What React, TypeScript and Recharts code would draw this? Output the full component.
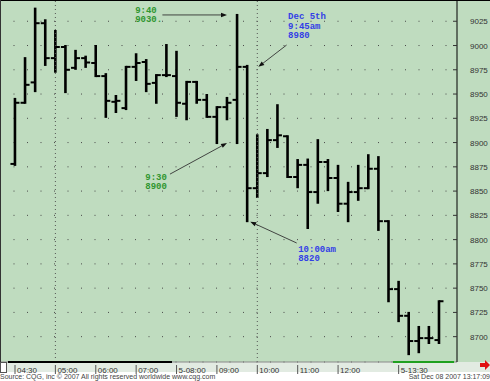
import React from "react";
import {
  ComposedChart,
  Bar,
  XAxis,
  YAxis,
  CartesianGrid,
  ReferenceLine,
  ReferenceDot,
} from "recharts";

// bar-by-bar OHLC (one bar per slot)
const OPEN = [
  8878, 8941, 8962, 9023, 8987, 8998.5, 8977, 8987, 8982, 8968.5, 8942, 8935.5, 8978, 8983, 8961.5,
  8969.5, 8968.5, 8940, 8962.5, 8944, 8926.5, 8936.5, 8944, 8978, 8853, 8868.5, 8902.5, 8906.5, 8864.5,
  8877, 8849, 8880, 8863.5, 8837, 8849, 8853, 8873, 8819, 8749, 8721.5, 8695.5, 8698.5, 8696.5,
];
const HIGH = [
  8945, 8987, 9038, 9026, 9015, 8999.5, 8994.5, 8988.5, 8999.5, 8970.5, 8948, 8978, 8991, 8985, 8969.5,
  9000.5, 8993.5, 8962.5, 8962.5, 8949, 8936.5, 8946, 9031.5, 8979, 8907.5, 8913, 8938.5, 8906.5, 8882,
  8882.5, 8902.5, 8882, 8876, 8858.5, 8876, 8887, 8885, 8819, 8756.5, 8724.5, 8710, 8710, 8736.5,
];
const LOW = [
  8877, 8941, 8953, 8980, 8973, 8952, 8976, 8978, 8968.5, 8926.5, 8931.5, 8934.5, 8964.5, 8953, 8941,
  8968.5, 8927.5, 8924, 8941, 8926.5, 8899.5, 8924, 8899.5, 8819, 8844, 8865.5, 8895.5, 8864.5, 8854,
  8812, 8838, 8851, 8829.5, 8819, 8841, 8853, 8810, 8736.5, 8716, 8682, 8684, 8693.5, 8693.5,
];
const CLOSE = [
  8941, 8959.5, 9023, 8987, 8998.5, 8975, 8987, 8982.5, 8968.5, 8943, 8943, 8978, 8982, 8960.5, 8969.5,
  8969.5, 8941, 8962.5, 8944, 8926.5, 8936.5, 8941, 8978, 8853, 8868.5, 8902.5, 8907.5, 8864.5, 8877,
  8849, 8880, 8863.5, 8837, 8849, 8853, 8873, 8819, 8749, 8721.5, 8695.5, 8698.5, 8698.5, 8736.5,
];

const TIME_TICKS = [0, 4, 8, 12, 16, 20, 24, 28, 32, 38];
const TIME_LABELS = ["04:30", "05:00", "06:00", "07:00", "5-08:00", "09:00", "10:00", "11:00", "12:00", "5-13:30"];
const PRICE_TICKS = [8700, 8725, 8750, 8775, 8800, 8825, 8850, 8875, 8900, 8925, 8950, 8975, 9000, 9025];
const SESSION_LINES = [4, 24];

// callouts: anchor in bar-index / price units
const NOTES = [
  { x: 11.9, y: 9034, lines: ["9:40", "9030."], color: "#2f962f" },
  { x: 12.9, y: 8861.5, lines: ["9:30", "8900"], color: "#2f962f" },
  { x: 27.05, y: 9027, lines: ["Dec 5th", "9:45am", "8980"], color: "#3340e6" },
  { x: 28.05, y: 8787.5, lines: ["10:00am", "8820"], color: "#3340e6" },
];
const ARROWS = [
  { from: [14.6, 9031.5], to: [21.0, 9031.5] },
  { from: [15.35, 8867.5], to: [21.0, 8899.5] },
  { from: [26.9, 9000.5], to: [24.1, 8978] },
  { from: [27.9, 8796.5], to: [23.3, 8818.5] },
];

const data = OPEN.map((o, i) => ({ i, open: o, high: HIGH[i], low: LOW[i], close: CLOSE[i] }));

const OhlcBar = (props: any) => {
  const { x, y, width, height, payload } = props;
  const top = Math.min(y, y + height);
  const bot = Math.max(y, y + height);
  const span = payload.high - payload.low || 1;
  const k = (bot - top) / span;
  const cx = x + width / 2;
  const yo = top + (payload.high - payload.open) * k;
  const yc = top + (payload.high - payload.close) * k;
  return (
    <g stroke="#000">
      <line x1={cx} x2={cx} y1={top - 1} y2={bot + 1} strokeWidth={2.6} />
      <line x1={cx - 4.5} x2={cx} y1={yo} y2={yo} strokeWidth={2} />
      <line x1={cx} x2={cx + 4.5} y1={yc} y2={yc} strokeWidth={2} />
    </g>
  );
};

const TimeTick = (props: any) => {
  const { x, y, payload } = props;
  const label = TIME_LABELS[TIME_TICKS.indexOf(payload.value)];
  return (
    <g>
      <line x1={x} x2={x} y1={y + 1} y2={y + 10} stroke="#555" strokeWidth={1} />
      <text x={x + 2} y={y + 8.5} fontSize={8} fontFamily="Liberation Sans, Arial" fill="#333">
        {label}
      </text>
    </g>
  );
};

const PriceTick = (props: any) => {
  const { x, y, payload } = props;
  return (
    <g>
      <line x1={x - 17} x2={x - 13} y1={y} y2={y} stroke="#333" strokeWidth={1} />
      <text x={x} y={y} dy={3} fontSize={8} fontFamily="Liberation Sans, Arial" fill="#333">
        {payload.value}
      </text>
    </g>
  );
};

const Arrow = (props: any) => {
  const { x1, y1, x2, y2 } = props;
  const a = Math.atan2(y2 - y1, x2 - x1);
  const L = 6;
  const W = 2.2;
  const bx = x2 - L * Math.cos(a);
  const by = y2 - L * Math.sin(a);
  const px = -Math.sin(a) * W;
  const py = Math.cos(a) * W;
  return (
    <g>
      <line x1={x1} y1={y1} x2={bx} y2={by} stroke="#333" strokeWidth={0.9} />
      <polygon points={`${x2},${y2} ${bx + px},${by + py} ${bx - px},${by - py}`} fill="#111" />
    </g>
  );
};

const noteShape = (note: (typeof NOTES)[number]) => (p: any) => (
  <text
    x={p.cx}
    y={p.cy}
    fontSize={9}
    fontWeight="bold"
    fontFamily="Liberation Mono, DejaVu Sans Mono, monospace"
    fill={note.color}
  >
    {note.lines.map((l, j) => (
      <tspan key={j} x={p.cx} dy={j === 0 ? 0 : 9.5}>
        {l}
      </tspan>
    ))}
  </text>
);

export default function App() {
  return (
    <div style={{ position: "absolute", left: 0, top: 0, width: 490, height: 381, background: "#fff", overflow: "hidden" }}>
      <div style={{ position: "absolute", left: 0, top: 0, width: 490, height: 362, background: "#bfdcbf" }} />
      <div style={{ position: "absolute", left: 0, top: 362, width: 490, height: 10, background: "#e2ebe2" }} />
      <div style={{ position: "absolute", left: 0, top: 0 }}>
        <ComposedChart width={490} height={381} data={data} margin={{ top: 0, right: 0, bottom: 9, left: 0 }}>
          <CartesianGrid vertical={false} stroke="#4a4a4a" strokeDasharray="1 12.5" />
          {SESSION_LINES.map((s) => (
            <ReferenceLine key={s} x={s} stroke="#555" strokeDasharray="1 3" />
          ))}
          <XAxis
            dataKey="i"
            type="number"
            domain={[-1.486, 43.78]}
            allowDataOverflow
            ticks={TIME_TICKS}
            tick={<TimeTick />}
            tickLine={false}
            tickSize={0}
            height={10}
            axisLine={{ stroke: "#8a8a8a" }}
            interval={0}
          />
          <YAxis
            orientation="right"
            type="number"
            domain={[8673.9, 9046.9]}
            allowDataOverflow
            ticks={PRICE_TICKS}
            tick={<PriceTick />}
            tickLine={false}
            tickSize={0}
            tickMargin={13}
            width={33}
            axisLine={{ stroke: "#000", strokeWidth: 1 }}
            interval={0}
          />
          <Bar
            dataKey={(d: any) => [d.low, d.high]}
            barSize={8}
            shape={<OhlcBar />}
            isAnimationActive={false}
          />
          {ARROWS.map((a, j) => (
            <ReferenceLine
              key={`a${j}`}
              segment={[
                { x: a.from[0], y: a.from[1] },
                { x: a.to[0], y: a.to[1] },
              ]}
              shape={<Arrow />}
            />
          ))}
          {NOTES.map((n, j) => (
            <ReferenceDot key={`n${j}`} x={n.x} y={n.y} r={0} shape={noteShape(n)} />
          ))}
        </ComposedChart>
      </div>
      {/* frame and scroll indicator strip */}
      <div style={{ position: "absolute", left: 0, top: 0, width: 490, height: 1, background: "#000" }} />
      <div style={{ position: "absolute", left: 0, top: 0, width: 1, height: 362, background: "#333" }} />
      <div style={{ position: "absolute", left: 8, top: 361, width: 164, height: 2, background: "#000" }} />
      <div style={{ position: "absolute", left: 393, top: 361, width: 61, height: 2, background: "#1fa01f" }} />
      <div style={{ position: "absolute", left: 0, top: 362, width: 5, height: 9, background: "#fff", border: "1px solid #555" }} />
      <svg style={{ position: "absolute", left: 480, top: 360 }} width={10} height={10}>
        <polygon points="0,3 5,3 5,0 10,5 5,10 5,7 0,7" fill="#e01010" />
      </svg>
      <div
        style={{
          position: "absolute",
          left: 0,
          top: 372,
          fontSize: 7,
          lineHeight: "9px",
          fontFamily: "Liberation Sans, Arial",
          color: "#444",
          whiteSpace: "nowrap",
        }}
      >
        Source: CQG, inc © 2007 All rights reserved worldwide www.cqg.com
      </div>
      <div
        style={{
          position: "absolute",
          right: 0,
          top: 372,
          fontSize: 7,
          lineHeight: "9px",
          fontFamily: "Liberation Sans, Arial",
          color: "#444",
          whiteSpace: "nowrap",
        }}
      >
        Sat Dec 08 2007 13:17:09
      </div>
    </div>
  );
}
